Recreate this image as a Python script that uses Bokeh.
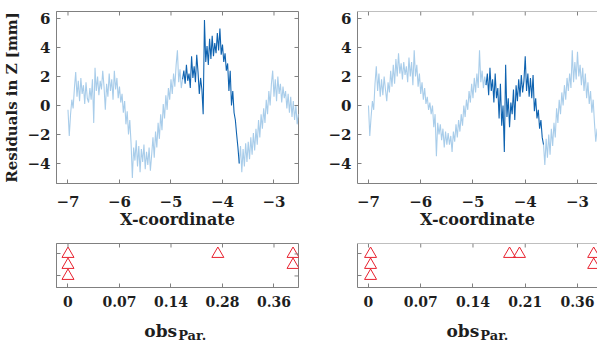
import numpy as np
from bokeh.plotting import figure
from bokeh.models import FixedTicker, Range1d, Span
from bokeh.core.properties import value
from bokeh.layouts import row, column
from bokeh.embed import file_html
from bokeh.resources import INLINE

# ---------------- data ----------------
x_step = 0.025

# left panel: residuals, light (outside window) and dark (inside window)
left_light_a_x0 = -7.0
left_light_a = [-0.3, -2.1, -0.6, 0.4, -0.2, 1.2, 2.3, 0.6, 1.7, 0.3,
                1.9, 0.8, 1.4, 0.1, 1.6, 0.5, 0.2, 1.2, 0.4, 1.8,
                -1.2, 2.6, 1.0, 2.0, 0.7, 1.7, 1.1, 2.4, 1.3, -0.3,
                1.5, 0.6, 2.2, 1.0, 1.8, 0.4, 2.4, 1.1, 1.9, 0.5,
                1.3, 0.2, 0.8, -0.5, 0.3, -1.3, -0.4, -2.0, -1.0, -2.6,
                -5.0, -2.9, -3.8, -2.4, -4.2, -2.8, -4.6, -3.0, -3.9, -2.7,
                -4.4, -3.2, -4.1, -2.9, -4.5, -3.4, -2.2, -3.6, -1.8, -2.9,
                -1.2, -2.3, -0.6, -1.7, 0.1, -0.9, 0.7, -0.3, 1.2, 0.4,
                1.8, 0.8, 2.2, 1.3, 2.8, 3.8, 1.6, 2.5, 1.2, 1.8]
left_dark_x0 = -4.775
left_dark = [1.8, 2.4, 1.5, 2.8, 1.7, 2.2, 1.2, 3.4, 1.9, 2.7,
             1.6, 3.5, 2.3, 0.8, 1.9, 1.1, -0.6, 5.9, 3.0, 4.1,
             2.8, 4.6, 3.2, 4.8, 3.4, 4.3, 3.6, 5.0, 3.8, 5.3,
             3.5, 4.2, 3.0, 3.6, 2.4, 2.9, 1.0, 2.4, 0.0, 1.0,
             -0.5, -1.0, -2.0, -2.9, -4.0]
left_light_b_x0 = -3.675
left_light_b = [-4.0, -2.8, -4.6, -3.0, -4.2, -2.6, -3.9, -2.5, -3.7, -2.2,
                -3.4, -1.9, -3.1, -1.6, -2.7, -1.0, -2.2, -0.6, -1.6, -0.2,
                -1.2, 0.4, -0.6, 1.0, 0.0, 1.5, 2.4, 0.6, 1.8, 0.3,
                2.0, 0.8, 1.5, 0.2, 1.3, 0.5, 1.0, -0.2, 0.8, -0.5,
                0.6, -0.8, 0.3, -1.0, 0.0, -1.3, -0.6, -0.9]

# right panel
right_light_a_x0 = -7.0
right_light_a = [0.0, -2.1, -0.8, 0.3, -0.3, 1.5, 2.7, 1.0, 2.2, 0.6,
                 1.8, 0.7, 2.0, 1.1, 0.3, 1.6, 0.9, 2.4, 1.3, 2.8,
                 1.5, 3.2, 2.0, 3.6, 2.2, 2.9, 1.8, 3.0, 2.1, 2.7,
                 1.6, 3.3, 2.0, 3.0, 1.4, 3.8, 2.0, 2.8, 1.3, 2.2,
                 0.8, 1.6, 0.4, 1.2, 0.1, 0.6, -0.3, 0.2, -0.6, 0.0,
                 -1.5, -0.6, -3.5, -1.2, -2.0, -1.3, -2.4, -1.6, -2.9, -1.8,
                 -2.7, -1.9, -2.7, -2.1, -3.2, -1.8, -2.5, -1.3, -2.2, -1.0,
                 -1.8, -0.6, -1.4, 0.0, -0.8, 0.4, -0.3, 1.0, 0.2, 1.5,
                 0.5, 1.9, 0.9, 2.2, 1.2, 3.8, 1.6, 2.4, 1.2, 2.0,
                 1.4]
right_dark_x0 = -4.75
right_dark = [1.4, 2.2, 0.7, 2.6, 1.0, 1.8, 0.2, 2.2, 0.5, 1.2,
              -0.9, 1.5, -1.4, 0.0, -3.2, 2.8, -0.8, 0.5, -1.5, 0.2,
              -0.6, 1.1, -1.0, 1.4, 0.3, 1.8, 0.6, 2.1, 0.9, 1.7,
              3.4, 1.0, 2.2, 0.6, 1.9, 0.5, 2.1, -0.4, 0.5, -0.9,
              -0.3, -1.6, -1.0, -2.2, -2.7]
right_light_b_x0 = -3.65
right_light_b = [-2.7, -4.1, -2.3, -3.6, -2.0, -3.4, -1.6, -2.8, -1.2, -2.2,
                 -0.2, -1.2, 0.4, -0.6, 0.9, 0.0, 1.4, 0.4, 1.9, 1.0,
                 2.2, 1.2, 3.8, 1.6, 3.0, 1.8, 3.7, 2.0, 2.8, 1.4,
                 2.6, 1.0, 2.2, 0.5, 1.6, 0.1, 1.0, -0.5, 0.4, -1.2,
                 -2.5, -1.6, -2.2, -1.0, -1.8, -0.8, -1.4]

x_ticks = [-7, -6, -5, -4, -3]
y_ticks = [-4, -2, 0, 2, 4, 6]

# observation strips: position on the (non-linear) obs axis, and row level
obs_tick_pos = [0, 1, 2, 3, 4]
obs_level_ticks = [1, 3]
left_obs_labels = ["0", "0.07", "0.14", "0.28", "0.36"]
right_obs_labels = ["0", "0.07", "0.14", "0.21", "0.36"]
left_obs_pos = [0, 0, 0, 2.91, 4.37, 4.37]
left_obs_level = [3, 2, 1, 3, 3, 2]
right_obs_pos = [0.04, 0.04, 0.04, 2.70, 2.89, 4.31, 4.31]
right_obs_level = [3, 2, 1, 3, 3, 3, 2]

x_title = "X-coordinate"
y_title = "Residuals in Z [mm]"
obs_title = "obs"
obs_sub = "Par."

# ---------------- style ----------------
FONT = "DejaVu Serif"
AX = "#808080"
TXT = "#1e1e1e"
LIGHT = "#a9cdea"
DARK = "#0f63b0"
RED = "#e8202e"
TICK = 4  # inward tick length in screen pixels


def style_axis(ax, size="15px", standoff=8):
    ax.axis_line_color = AX
    ax.major_tick_line_color = AX
    ax.minor_tick_line_color = None
    ax.major_tick_in = TICK
    ax.major_tick_out = 0
    ax.major_label_text_font = FONT
    ax.major_label_text_font_style = "bold"
    ax.major_label_text_font_size = size
    ax.major_label_text_color = TXT
    ax.major_label_standoff = standoff
    ax.axis_label_text_font = FONT
    ax.axis_label_text_font_style = "bold"
    ax.axis_label_text_color = TXT


def box_edges(p, xr, yr, xt, yt, right_border):
    """Top edge (and right edge) of the box, with inward ticks, no labels."""
    if right_border:
        p.outline_line_color = AX
    else:
        p.outline_line_color = None
        p.add_layout(Span(location=yr[1], dimension="width",
                          line_color=AX, line_width=1))
    p.ray(x=xt, y=[yr[1]] * len(xt), length=TICK, length_units="screen",
          angle=-np.pi / 2, line_color=AX, line_width=1)
    if right_border:
        p.ray(x=[xr[1]] * len(yt), y=yt, length=TICK, length_units="screen",
              angle=np.pi, line_color=AX, line_width=1)


def top_panel(width, mleft, mright, xr, segs, ylabel, right_border):
    yr = (-5.38, 6.48)
    p = figure(width=width, height=232, x_range=Range1d(*xr),
               y_range=Range1d(*yr), output_backend="svg",
               toolbar_location=None, min_border_left=mleft,
               min_border_right=mright, min_border_top=11,
               min_border_bottom=49)
    p.grid.visible = False
    for x0, ys, color in segs:
        xs = x0 + x_step * np.arange(len(ys))
        p.line(xs, ys, line_color=color, line_width=1.1)
    p.xaxis.ticker = FixedTicker(ticks=x_ticks)
    p.yaxis.ticker = FixedTicker(ticks=y_ticks)
    style_axis(p.xaxis[0], "15px", 12)
    style_axis(p.yaxis[0], "15px", 6)
    p.xaxis.axis_label = x_title
    p.xaxis.axis_label_text_font_size = "16px"
    p.xaxis.axis_label_standoff = 0
    if ylabel:
        p.yaxis.axis_label = ylabel
        p.yaxis.axis_label_text_font_size = "15px"
        p.yaxis.axis_label_standoff = 3
    box_edges(p, xr, yr, x_ticks, y_ticks, right_border)
    return p


def strip_panel(width, mleft, mright, xr, labels, pos, lev, right_border):
    yr = (-0.05, 3.95)
    p = figure(width=width, height=78, x_range=Range1d(*xr),
               y_range=Range1d(*yr), output_backend="svg",
               toolbar_location=None, min_border_left=mleft,
               min_border_right=mright, min_border_top=11,
               min_border_bottom=23)
    p.grid.visible = False
    p.scatter(pos, lev, marker="triangle", size=12, line_color=RED,
              fill_color=None, line_width=1)
    p.xaxis.ticker = FixedTicker(ticks=obs_tick_pos)
    p.xaxis.major_label_overrides = {t: s for t, s in zip(obs_tick_pos, labels)}
    style_axis(p.xaxis[0], "14px", 8)
    p.yaxis.ticker = FixedTicker(ticks=obs_level_ticks)
    style_axis(p.yaxis[0], "14px", 4)
    p.yaxis.major_label_overrides = {t: " " for t in obs_level_ticks}
    box_edges(p, xr, yr, obs_tick_pos, obs_level_ticks, right_border)
    return p


def title_panel(width, mleft, mright, xr):
    # a bare strip holding the axis title "obs" with subscript "Par."
    p = figure(width=width, height=33, x_range=Range1d(*xr),
               y_range=Range1d(0, 33), output_backend="svg",
               toolbar_location=None, min_border_left=mleft,
               min_border_right=mright, min_border_top=0,
               min_border_bottom=0)
    p.grid.visible = False
    p.axis.visible = False
    p.outline_line_color = None
    p.text(x=[2.12], y=[13], text=[obs_title], text_align="right",
           text_baseline="alphabetic", text_font=value(FONT),
           text_font_style="bold", text_font_size="17px", text_color=TXT)
    p.text(x=[2.14], y=[8.5], text=[obs_sub], text_align="left",
           text_baseline="alphabetic", text_font=value(FONT),
           text_font_style="bold", text_font_size="13px", text_color=TXT)
    return p


p1 = top_panel(300, 56, 2, (-7.223, -2.524),
               [(left_light_a_x0, left_light_a, LIGHT),
                (left_light_b_x0, left_light_b, LIGHT),
                (left_dark_x0, left_dark, DARK)],
               y_title, True)
p2 = top_panel(297, 57, 0, (-7.21, -2.617),
               [(right_light_a_x0, right_light_a, LIGHT),
                (right_light_b_x0, right_light_b, LIGHT),
                (right_dark_x0, right_dark, DARK)],
               None, False)
s1 = strip_panel(300, 56, 2, (-0.223, 4.476), left_obs_labels,
                 left_obs_pos, left_obs_level, True)
s2 = strip_panel(297, 57, 0, (-0.21, 4.383), right_obs_labels,
                 right_obs_pos, right_obs_level, False)
t1 = title_panel(300, 56, 2, (-0.223, 4.476))
t2 = title_panel(297, 57, 0, (-0.21, 4.383))

layout = row(column(p1, s1, t1), column(p2, s2, t2))
open("out.html", "w").write(file_html(layout, INLINE))
